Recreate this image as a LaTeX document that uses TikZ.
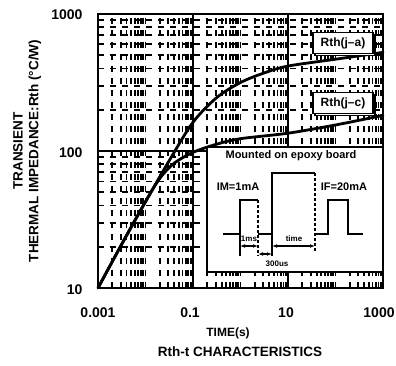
\documentclass[tikz,border=0pt]{standalone}
\usepackage{fontspec}
\setmainfont{Liberation Sans}
\usetikzlibrary{arrows.meta}
\usetikzlibrary{positioning}
\usetikzlibrary{shadows}
\tikzset{gridline/.style = {line width=1.8pt, dash pattern=on 6pt off 6pt}}
\tikzset{majorline/.style = {line width=2pt}}
\tikzset{curve/.style = {line width=2.8pt, line join=round, line cap=round}}
\tikzset{tag/.style = {draw, line width=1.5pt, fill=white, inner sep=3pt,
                       minimum width=60pt, minimum height=21pt,
                       font=\fontsize{12}{14}\selectfont\bfseries,
                       copy shadow={shadow xshift=2pt, shadow yshift=-2pt}}}
\tikzset{ticklabel/.style = {font=\fontsize{14}{16}\selectfont\bfseries}}
\tikzset{titletext/.style = {font=\fontsize{13.5}{16}\selectfont\bfseries}}
\tikzset{insettext/.style = {font=\fontsize{11}{13}\selectfont\bfseries, inner sep=1pt}}
\tikzset{dimtext/.style = {font=\fontsize{8}{9}\selectfont\bfseries, inner sep=0.5pt}}
\tikzset{pulse/.style = {line width=2pt}}
\tikzset{dim/.style = {line width=1.2pt, {Latex[length=5pt]}-{Latex[length=5pt]}}}

\begin{document}
\begin{tikzpicture}[x=1pt, y=-1pt]
  \useasboundingbox (0,0) rectangle (396,365);

  % chart in decades: u = log10(t/0.001), v = log10(Rth/10)
  \begin{scope}[shift={(98,288)}, x=47.5pt, y=137pt]
    \foreach \d in {0,...,5}
      \foreach \m in {2,...,9}
        \draw [gridline] ({\d+log10(\m)},0) -- ({\d+log10(\m)},2);
    \foreach \d in {1,3,5}
      \draw [gridline] (\d,0) -- (\d,2);
    \foreach \d in {0,1}
      \foreach \m in {2,...,9}
        \draw [gridline] (0,{\d+log10(\m)}) -- (6,{\d+log10(\m)});
    \draw [majorline] (2,0) -- (2,2);
    \draw [majorline] (4,0) -- (4,2);
    \draw [majorline] (0,1) -- (6,1);

    \draw [curve] plot [smooth] coordinates {(0,0) (0.5,0.32) (1,0.63) (1.5,0.93) (2,1.21)
      (2.5,1.39) (3,1.50) (3.5,1.57) (4,1.62) (5,1.67) (6,1.72)};
    \draw [curve] plot [smooth] coordinates {(0,0) (0.5,0.32) (1,0.63) (1.3,0.80) (1.6,0.91)
      (2,0.99) (2.5,1.05) (3,1.09) (4,1.13) (5,1.19) (6,1.26)};

    \draw [line width=2.6pt] (0,0) rectangle (6,2);
  \end{scope}

  \node [tag] (ja) at (343,43) {Rth(j--a)};
  \node [tag] (jc) at (343,103) {Rth(j--c)};

  % axis labels
  \node [ticklabel, anchor=east] (y1000) at (86,15) {1000};
  \node [ticklabel, anchor=east] (y100) at (86,153) {100};
  \node [ticklabel, anchor=east] (y10) at (86,290) {10};
  \node [ticklabel] (x0001) at (98,313) {0.001};
  \node [ticklabel] (x01) at (190,313) {0.1};
  \node [ticklabel] (x10) at (286,313) {10};
  \node [ticklabel] (x1000) at (379,313) {1000};

  \node [font=\fontsize{12}{14}\selectfont\bfseries] (xtitle) at (228,333) {TIME(s)};
  \node [titletext] (caption) at (240,352) {Rth-t CHARACTERISTICS};
  \node [titletext, rotate=90] (ytitle1) at (18,151) {TRANSIENT};
  \node [titletext, rotate=90] (ytitle2) at (35,151) {THERMAL IMPEDANCE:Rth (\textdegree C/W)};

  % inset
  \draw [fill=white, line width=2.4pt] (207,147) rectangle (383,272);
  \node [insettext] (board) at (291,156) {Mounted on epoxy board};
  \node [insettext] (im) at (238,187) {IM=1mA};
  \node [insettext] (if) at (344,187) {IF=20mA};

  \draw [pulse] (223,234) -- (240,234) -- (240,200) -- (258,200);
  \draw [pulse] (258,234) -- (272,234) -- (272,173) -- (315,173);
  \draw [pulse] (315,234) -- (328,234) -- (328,200) -- (348,200) -- (348,234) -- (363,234);
  \draw [pulse, dash pattern=on 3pt off 2pt] (258,200) -- (258,256);
  \draw [pulse, dash pattern=on 3pt off 2pt] (315,173) -- (315,252);
  \draw [line width=1.2pt] (240,234) -- (240,256);
  \draw [line width=1.2pt] (272,234) -- (272,256);

  \coordinate (m1) at (240,246);
  \coordinate (m2) at (258,246);
  \coordinate (h1) at (272,246);
  \coordinate (h2) at (315,246);
  \coordinate (g1) at (258,254);
  \coordinate (g2) at (272,254);
  \draw [dim] (m1) -- (m2);
  \draw [dim] (h1) -- (h2);
  \draw [dim] (g1) -- (g2);
  \node [dimtext] (ms) at (249,239) {1ms};
  \node [dimtext] (tw) at (294,239) {time};
  \node [dimtext] (us) at (277,264) {300us};
\end{tikzpicture}
\end{document}
